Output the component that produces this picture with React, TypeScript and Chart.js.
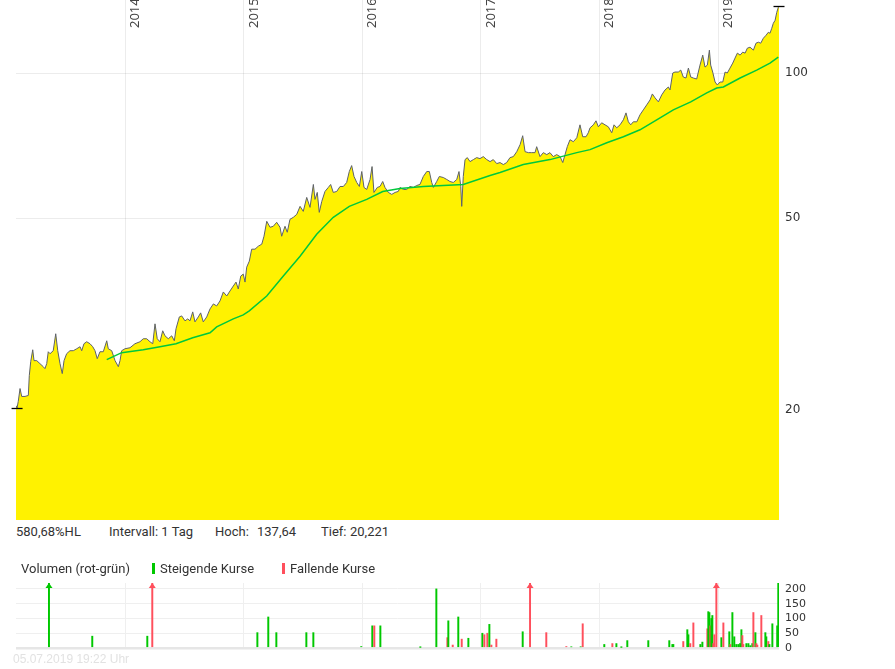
import React, { useEffect, useRef } from "react";
import { Chart, registerables } from "chart.js";

Chart.register(...registerables);

// ---------- data ----------
const priceDates = [
  2013.081, 2013.09, 2013.1, 2013.115, 2013.129, 2013.157, 2013.185, 2013.193, 2013.205, 2013.222,
  2013.233, 2013.256, 2013.283, 2013.311, 2013.325, 2013.34, 2013.353, 2013.368, 2013.395, 2013.416,
  2013.433, 2013.452, 2013.471, 2013.486, 2013.508, 2013.536, 2013.564, 2013.593, 2013.621, 2013.635,
  2013.654, 2013.677, 2013.705, 2013.728, 2013.747, 2013.766, 2013.789, 2013.817, 2013.846, 2013.859,
  2013.888, 2013.916, 2013.944, 2013.958, 2013.972, 2014.0, 2014.042, 2014.084, 2014.126, 2014.154,
  2014.183, 2014.211, 2014.234, 2014.253, 2014.272, 2014.295, 2014.318, 2014.337, 2014.365, 2014.394,
  2014.416, 2014.43, 2014.458, 2014.478, 2014.506, 2014.529, 2014.548, 2014.571, 2014.59, 2014.618,
  2014.638, 2014.66, 2014.689, 2014.717, 2014.745, 2014.773, 2014.801, 2014.829, 2014.858, 2014.885,
  2014.913, 2014.936, 2014.955, 2014.976, 2014.997, 2015.012, 2015.026, 2015.048, 2015.068, 2015.096,
  2015.124, 2015.153, 2015.172, 2015.195, 2015.223, 2015.25, 2015.279, 2015.307, 2015.321, 2015.349,
  2015.368, 2015.391, 2015.419, 2015.448, 2015.476, 2015.503, 2015.532, 2015.56, 2015.588, 2015.602,
  2015.621, 2015.638, 2015.659, 2015.686, 2015.714, 2015.734, 2015.756, 2015.785, 2015.813, 2015.841,
  2015.869, 2015.891, 2015.911, 2015.931, 2015.954, 2015.976, 2015.996, 2016.015, 2016.038, 2016.066,
  2016.083, 2016.099, 2016.127, 2016.15, 2016.173, 2016.192, 2016.22, 2016.249, 2016.277, 2016.304,
  2016.319, 2016.347, 2016.375, 2016.403, 2016.431, 2016.46, 2016.487, 2016.515, 2016.544, 2016.566,
  2016.586, 2016.6, 2016.628, 2016.65, 2016.684, 2016.713, 2016.74, 2016.768, 2016.797, 2016.816,
  2016.831, 2016.839, 2016.852, 2016.867, 2016.886, 2016.909, 2016.937, 2016.965, 2016.993, 2017.021,
  2017.05, 2017.078, 2017.105, 2017.134, 2017.162, 2017.19, 2017.218, 2017.246, 2017.274, 2017.303,
  2017.331, 2017.353, 2017.373, 2017.401, 2017.429, 2017.457, 2017.471, 2017.499, 2017.527, 2017.556,
  2017.583, 2017.611, 2017.64, 2017.668, 2017.691, 2017.71, 2017.729, 2017.752, 2017.78, 2017.809,
  2017.836, 2017.859, 2017.887, 2017.906, 2017.921, 2017.949, 2017.971, 2017.991, 2018.019, 2018.047,
  2018.075, 2018.104, 2018.123, 2018.146, 2018.174, 2018.202, 2018.224, 2018.244, 2018.264, 2018.286,
  2018.315, 2018.342, 2018.37, 2018.399, 2018.427, 2018.446, 2018.469, 2018.497, 2018.525, 2018.553,
  2018.581, 2018.595, 2018.618, 2018.637, 2018.665, 2018.686, 2018.707, 2018.73, 2018.75, 2018.77,
  2018.792, 2018.82, 2018.848, 2018.871, 2018.89, 2018.91, 2018.927, 2018.938, 2018.955, 2018.975,
  2018.994, 2019.017, 2019.04, 2019.059, 2019.078, 2019.101, 2019.124, 2019.143, 2019.163, 2019.186,
  2019.208, 2019.228, 2019.247, 2019.27, 2019.298, 2019.32, 2019.34, 2019.36, 2019.382, 2019.405,
  2019.424, 2019.438, 2019.453, 2019.466, 2019.481, 2019.495, 2019.508, 2019.514,
];
const prices = [
  20.45, 20.22, 20.87, 22.19, 21.37, 21.37, 21.47, 23.6, 25.23, 26.7,
  25.35, 25.35, 24.99, 24.63, 24.4, 24.99, 26.45, 26.2, 26.58, 28.82,
  26.58, 24.99, 23.83, 25.35, 26.2, 26.58, 26.58, 26.83, 27.09, 26.58,
  27.48, 27.74, 27.48, 27.09, 26.58, 25.59, 26.45, 26.45, 27.87, 26.83,
  26.58, 25.35, 24.63, 25.35, 26.58, 26.83, 26.96, 27.48, 27.74, 28.14,
  28.14, 27.74, 27.48, 30.22, 28.14, 27.74, 29.23, 28.54, 28.14, 28.54,
  27.87, 29.51, 31.23, 31.38, 30.65, 30.94, 30.65, 31.99, 30.5, 31.23,
  31.84, 30.5, 31.23, 32.45, 33.23, 32.91, 33.71, 35.18, 34.51, 35.34,
  36.19, 36.88, 35.68, 37.95, 38.31, 36.88, 39.6, 40.75, 43.15, 43.15,
  43.77, 44.19, 45.9, 49.29, 47.9, 48.13, 49.06, 47.9, 45.9, 48.13,
  46.78, 49.76, 50.23, 50.95, 52.93, 51.68, 55.24, 52.68, 58.76, 54.72,
  56.57, 51.44, 54.2, 56.83, 57.93, 58.76, 56.57, 56.83, 58.2, 58.2,
  59.32, 62.5, 64.3, 61.04, 59.32, 58.2, 62.5, 57.93, 57.38, 60.17,
  64.0, 56.57, 57.93, 58.2, 59.6, 57.93, 56.57, 56.04, 56.57, 56.83,
  57.93, 57.38, 57.38, 58.2, 57.93, 58.48, 58.76, 61.04, 62.5, 62.5,
  59.32, 57.93, 59.6, 61.04, 60.74, 60.17, 59.6, 59.32, 60.17, 62.5,
  58.2, 52.93, 61.04, 66.16, 66.79, 65.53, 66.16, 66.79, 66.48, 67.11,
  66.16, 65.53, 66.16, 64.92, 65.23, 64.61, 65.23, 66.79, 67.11, 68.72,
  71.05, 74.15, 68.72, 68.4, 68.4, 68.4, 70.37, 67.11, 68.4, 67.76,
  68.4, 67.11, 67.76, 67.11, 65.23, 67.76, 70.37, 72.75, 72.06, 73.44,
  78.11, 73.79, 73.79, 75.2, 77.0, 78.11, 79.62, 77.37, 78.87, 78.11,
  77.37, 75.2, 78.11, 77.0, 78.11, 80.0, 82.69, 79.24, 78.11, 79.24,
  79.24, 81.91, 83.87, 85.92, 87.98, 90.51, 88.82, 87.14, 90.08, 92.24,
  93.56, 92.24, 100.0, 100.48, 100.48, 101.43, 98.11, 97.65, 102.4, 98.11,
  97.65, 97.19, 103.87, 108.93, 102.88, 103.87, 111.54, 103.87, 100.48, 95.81,
  94.47, 95.81, 95.81, 100.48, 100.0, 102.4, 104.86, 107.37, 109.97, 108.93,
  110.48, 109.97, 112.6, 113.13, 111.54, 115.31, 115.85, 115.31, 118.07, 119.77,
  121.47, 120.91, 123.81, 126.79, 128.6, 133.56, 136.77, 137.64,
];

// 200-day moving average
const maDates = [
  2013.846, 2013.972, 2014.154, 2014.295, 2014.43, 2014.571, 2014.717, 2014.773, 2014.913, 2014.997,
  2015.048, 2015.195, 2015.335, 2015.476, 2015.616, 2015.756, 2015.891, 2016.038, 2016.173, 2016.319,
  2016.515, 2016.852, 2017.078, 2017.162, 2017.358, 2017.583, 2017.809, 2017.921, 2018.062, 2018.202,
  2018.342, 2018.483, 2018.623, 2018.77, 2018.905, 2018.989, 2019.045, 2019.186, 2019.326, 2019.438,
  2019.508,
];
const maValues = [
  25.47, 26.33, 26.7, 27.09, 27.48, 28.27, 28.96, 29.79, 30.94, 31.53,
  32.14, 34.51, 37.95, 41.73, 46.34, 50.23, 52.93, 54.72, 56.83, 57.66,
  58.2, 58.76, 61.33, 62.21, 64.61, 66.16, 68.4, 69.38, 71.72, 73.79,
  76.28, 80.0, 83.87, 87.14, 90.94, 93.12, 93.56, 97.65, 101.43, 104.86,
  107.88,
];

// volume (only days with turnover)
const volDates = [
  2013.359, 2013.724, 2014.188, 2014.23, 2015.116, 2015.208, 2015.276, 2015.529, 2015.588, 2015.992,
  2016.085, 2016.102, 2016.153, 2016.49, 2016.625, 2016.718, 2016.726, 2016.763, 2016.81, 2016.839,
  2016.895, 2017.013, 2017.03, 2017.055, 2017.072, 2017.089, 2017.131, 2017.353, 2017.415, 2017.552,
  2017.721, 2017.763, 2017.842, 2017.859, 2018.041, 2018.109, 2018.143, 2018.185, 2018.235, 2018.412,
  2018.589, 2018.615, 2018.623, 2018.707, 2018.741, 2018.75, 2018.766, 2018.792, 2018.851, 2018.868,
  2018.91, 2018.918, 2018.927, 2018.935, 2018.944, 2018.952, 2018.96, 2018.969, 2018.986, 2019.028,
  2019.045, 2019.095, 2019.104, 2019.121, 2019.137, 2019.154, 2019.171, 2019.186, 2019.197, 2019.205,
  2019.213, 2019.239, 2019.256, 2019.272, 2019.289, 2019.298, 2019.315, 2019.323, 2019.331, 2019.365,
  2019.399, 2019.407, 2019.424, 2019.433, 2019.458, 2019.499, 2019.508,
];
const volValues = [
  380, 40, 40, 360, 52, 105, 52, 52, 52, 5,
  75, 75, 75, 2, 200, 35, 92, 10, 105, 30,
  33, 50, 45, 50, 80, 10, 30, 55, 340, 52,
  5, 4, 4, 82, 12, 15, 15, 2, 25, 25,
  25, 12, 12, 22, 62, 45, 15, 85, 12, 20,
  65, 123, 120, 75, 100, 110, 15, 45, 330, 35,
  85, 55, 12, 120, 38, 12, 12, 15, 62, 42,
  12, 15, 15, 8, 15, 120, 52, 15, 10, 110,
  52, 38, 22, 12, 82, 75, 220,
];
// 1 = steigende Kurse, 0 = fallende Kurse
const volRising = [
  1, 1, 1, 0, 1, 1, 1, 1, 1, 1,
  1, 0, 1, 1, 1, 0, 1, 0, 1, 0,
  1, 1, 0, 0, 1, 0, 0, 1, 0, 0,
  0, 1, 1, 0, 1, 0, 1, 1, 1, 1,
  1, 1, 1, 0, 1, 1, 0, 0, 1, 1,
  0, 1, 1, 0, 1, 1, 0, 0, 0, 1,
  0, 1, 0, 1, 1, 1, 1, 1, 1, 0,
  0, 1, 1, 1, 1, 0, 1, 0, 0, 0,
  1, 1, 0, 1, 1, 1, 1,
];

const yearTicks = [2014, 2015, 2016, 2017, 2018, 2019];
const priceTicks = [20, 50, 100];
const volumeTicks = [0, 50, 100, 150, 200];

const dateMin = 2013.081;
const dateMax = 2019.514;
const priceMin = 11.85;
const priceMax = 141.7;
const volMax = 220;

const lowValue = 20.221;
const lowDate = 2013.09;
const highValue = 137.64;
const highDate = 2019.514;
const intervalText = "1 Tag";
const timestampText = "05.07.2019 19:22 Uhr";

// ---------- styles ----------
const YELLOW = "#fff200";
const PRICE_LINE = "#5d6169";
const MA_GREEN = "#00c83c";
const UP = "#00c800";
const DOWN = "#ff4f5c";
const GRID = "rgba(0,0,0,0.075)";
const TEXT = "#333333";
const UI_FONT = 'Roboto, "Noto Sans", sans-serif';
const YEAR_FONT = '"Noto Sans", sans-serif';
const AXIS_FONT = "DejaVu Sans";

const de = (v: number) => String(v).replace(".", ",");

const yearLabelsPlugin = {
  id: "yearLabels",
  afterDraw(chart: any) {
    const { ctx } = chart;
    const x = chart.scales.x;
    ctx.save();
    ctx.fillStyle = "#444";
    ctx.font = `13px ${YEAR_FONT}`;
    ctx.textAlign = "left";
    ctx.textBaseline = "alphabetic";
    yearTicks.forEach((yr) => {
      const px = x.getPixelForValue(yr);
      ctx.save();
      ctx.translate(px + 14, 28);
      ctx.rotate(-Math.PI / 2);
      ctx.fillText(String(yr), 0, 0);
      ctx.restore();
    });
    ctx.restore();
  },
};

const extremaPlugin = {
  id: "extrema",
  afterDatasetsDraw(chart: any) {
    const { ctx } = chart;
    const x = chart.scales.x;
    const y = chart.scales.y;
    ctx.save();
    ctx.strokeStyle = "#000";
    ctx.lineWidth = 1.3;
    [
      [lowDate, lowValue],
      [highDate, highValue],
    ].forEach(([d, v]) => {
      const px = x.getPixelForValue(d);
      const py = Math.round(y.getPixelForValue(v)) + 0.5;
      ctx.beginPath();
      ctx.moveTo(px - 5.5, py);
      ctx.lineTo(px + 5.5, py);
      ctx.stroke();
    });
    ctx.restore();
  },
};

const arrowPlugin = {
  id: "volArrows",
  afterDatasetsDraw(chart: any) {
    const { ctx, chartArea } = chart;
    const x = chart.scales.x;
    ctx.save();
    volValues.forEach((v, i) => {
      if (v <= volMax) return;
      const px = x.getPixelForValue(volDates[i]);
      const top = chartArea.top;
      ctx.fillStyle = volRising[i] ? UP : DOWN;
      ctx.beginPath();
      ctx.moveTo(px, top);
      ctx.lineTo(px + 3.5, top + 5);
      ctx.lineTo(px - 3.5, top + 5);
      ctx.closePath();
      ctx.fill();
    });
    ctx.restore();
  },
};

export default function App() {
  const mainRef = useRef<HTMLCanvasElement>(null);
  const volRef = useRef<HTMLCanvasElement>(null);

  useEffect(() => {
    const main = new Chart(mainRef.current as HTMLCanvasElement, {
      type: "line",
      data: {
        datasets: [
          {
            data: maDates.map((d, i) => ({ x: d, y: maValues[i] })),
            borderColor: MA_GREEN,
            borderWidth: 1.5,
            pointRadius: 0,
            fill: false,
            tension: 0,
            order: 0,
          },
          {
            data: priceDates.map((d, i) => ({ x: d, y: prices[i] })),
            borderColor: PRICE_LINE,
            borderWidth: 1,
            backgroundColor: YELLOW,
            fill: "start",
            pointRadius: 0,
            tension: 0,
            order: 1,
          },
        ],
      },
      options: {
        animation: false,
        responsive: false,
        maintainAspectRatio: false,
        layout: { padding: { left: 16, right: 0, top: 0, bottom: 0 } },
        plugins: { legend: { display: false }, tooltip: { enabled: false } },
        scales: {
          x: {
            type: "linear",
            min: dateMin,
            max: dateMax,
            offset: false,
            z: 1,
            border: { display: false },
            grid: { color: GRID, drawTicks: false, offset: false },
            ticks: { display: false },
            afterBuildTicks: (s: any) => {
              s.ticks = yearTicks.map((v) => ({ value: v }));
            },
            afterFit: (s: any) => {
              s.height = 0;
              s.paddingLeft = 0;
              s.paddingRight = 0;
            },
          },
          y: {
            type: "logarithmic",
            position: "right",
            min: priceMin,
            max: priceMax,
            z: 1,
            border: { display: false },
            grid: { color: GRID, drawTicks: false },
            ticks: {
              padding: 6,
              color: TEXT,
              font: { family: AXIS_FONT, size: 12 },
              callback: (v: any) => String(v),
            },
            afterBuildTicks: (s: any) => {
              s.ticks = priceTicks.map((v) => ({ value: v }));
            },
            afterFit: (s: any) => {
              s.width = 116;
              s.paddingTop = 0;
              s.paddingBottom = 0;
            },
          },
        },
      } as any,
      plugins: [yearLabelsPlugin, extremaPlugin],
    });

    const vol = new Chart(volRef.current as HTMLCanvasElement, {
      type: "bar",
      data: {
        datasets: [
          {
            data: volDates.map((d, i) => ({ x: d, y: volValues[i] })),
            backgroundColor: volRising.map((r) => (r ? UP : DOWN)),
            barThickness: 1.3,
            borderWidth: 0,
          },
        ],
      },
      options: {
        animation: false,
        responsive: false,
        maintainAspectRatio: false,
        layout: { padding: { left: 16, right: 0, top: 8, bottom: 12 } },
        plugins: { legend: { display: false }, tooltip: { enabled: false } },
        scales: {
          x: {
            type: "linear",
            min: dateMin,
            max: dateMax,
            offset: false,
            border: { display: false },
            grid: { color: "#efefef", drawTicks: false, offset: false },
            ticks: { display: false },
            afterBuildTicks: (s: any) => {
              s.ticks = yearTicks.map((v) => ({ value: v }));
            },
            afterFit: (s: any) => {
              s.height = 0;
              s.paddingLeft = 0;
              s.paddingRight = 0;
            },
          },
          y: {
            type: "linear",
            position: "right",
            min: 0,
            max: volMax,
            border: { display: false },
            grid: {
              drawTicks: false,
              color: (c: any) => (c.tick && c.tick.value === 0 ? "#e6e6e6" : "#efefef"),
              lineWidth: (c: any) => (c.tick && c.tick.value === 0 ? 2.5 : 1),
            },
            ticks: {
              padding: 6,
              color: TEXT,
              font: { family: AXIS_FONT, size: 11 },
            },
            afterBuildTicks: (s: any) => {
              s.ticks = volumeTicks.map((v) => ({ value: v }));
            },
            afterFit: (s: any) => {
              s.width = 116;
              s.paddingTop = 0;
              s.paddingBottom = 0;
            },
          },
        },
      } as any,
      plugins: [arrowPlugin],
    });

    return () => {
      main.destroy();
      vol.destroy();
    };
  }, []);

  const hlPct = ((highValue / lowValue - 1) * 100).toFixed(2).replace(".", ",");
  const txt: React.CSSProperties = {
    position: "absolute",
    fontFamily: UI_FONT,
    fontSize: 13,
    lineHeight: "18px",
    color: TEXT,
    whiteSpace: "pre",
  };

  return (
    <div
      style={{
        position: "fixed",
        left: 0,
        top: 0,
        width: 895,
        height: 669,
        background: "#fff",
        overflow: "hidden",
      }}
    >
      <canvas
        ref={mainRef}
        width={895}
        height={520}
        style={{ position: "absolute", left: 0, top: 0, width: 895, height: 520 }}
      />
      <canvas
        ref={volRef}
        width={895}
        height={85}
        style={{ position: "absolute", left: 0, top: 575, width: 895, height: 85 }}
      />
      <div style={{ ...txt, left: 16, top: 523 }}>{`${hlPct}%HL`}</div>
      <div style={{ ...txt, left: 109, top: 523 }}>{`Intervall: ${intervalText}`}</div>
      <div style={{ ...txt, left: 215, top: 523 }}>Hoch:</div>
      <div style={{ ...txt, left: 257, top: 523 }}>{de(highValue)}</div>
      <div style={{ ...txt, left: 321, top: 523 }}>Tief:</div>
      <div style={{ ...txt, left: 350, top: 523 }}>{de(lowValue)}</div>

      <div style={{ ...txt, left: 21, top: 560 }}>Volumen (rot-grün)</div>
      <div style={{ position: "absolute", left: 152, top: 563, width: 3, height: 11, background: UP }} />
      <div style={{ ...txt, left: 160, top: 560 }}>Steigende Kurse</div>
      <div style={{ position: "absolute", left: 282, top: 563, width: 3, height: 11, background: DOWN }} />
      <div style={{ ...txt, left: 290, top: 560 }}>Fallende Kurse</div>

      <div
        style={{
          ...txt,
          left: 13,
          top: 650,
          fontFamily: '"Liberation Sans", Arial, sans-serif',
          fontSize: 12,
          color: "#e2e2e2",
        }}
      >
        {timestampText}
      </div>
    </div>
  );
}
